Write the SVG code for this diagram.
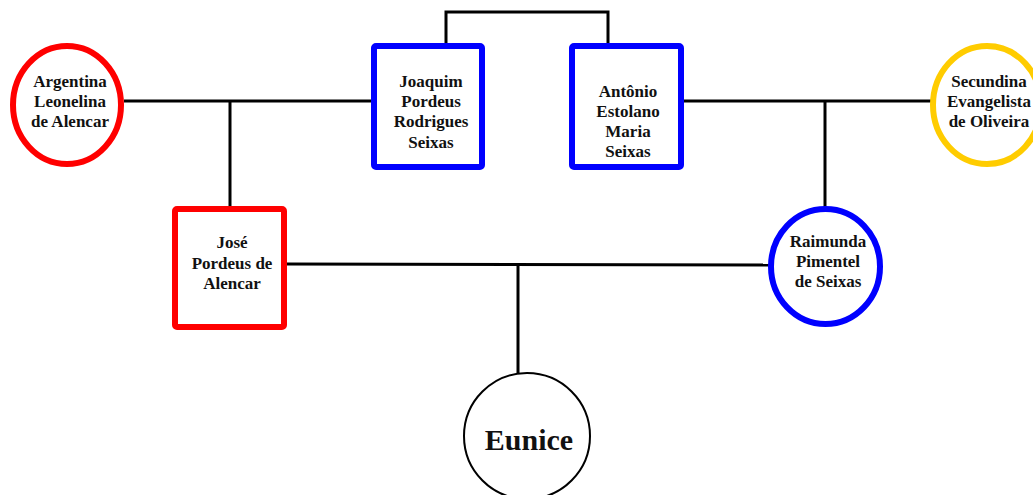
<svg xmlns="http://www.w3.org/2000/svg" width="1033" height="495" viewBox="0 0 1033 495">
  <style>
    .lbl { font-family: "Liberation Serif", "Times New Roman", serif; font-weight: bold; font-size: 17px; fill: #111; text-anchor: middle; }
    .big { font-size: 30px; }
    .edge { stroke: #000; stroke-width: 3; fill: none; }
    .red { stroke: #ff0000; stroke-width: 6; fill: #fff; }
    .blue { stroke: #0000ff; stroke-width: 6; fill: #fff; }
    .gold { stroke: #ffcc00; stroke-width: 6; fill: #fff; }
    .plain { stroke: #000; stroke-width: 2; fill: #fff; }
  </style>
  <rect width="1033" height="495" fill="#fff"/>

  <g id="connectors">
    <path class="edge" d="M124 101 H374"/>
    <path class="edge" d="M230 101 V208"/>
    <path class="edge" d="M446 46 V12 H608 V46"/>
    <path class="edge" d="M684 101 H932"/>
    <path class="edge" d="M825 101 V209"/>
    <path class="edge" d="M287 264 L771 265"/>
    <path class="edge" d="M518 264 V373"/>
  </g>

  <g id="argentina">
    <ellipse class="red" cx="67" cy="105" rx="54" ry="59"/>
    <text class="lbl" x="70" y="87">Argentina</text>
    <text class="lbl" x="70" y="107">Leonelina</text>
    <text class="lbl" x="70" y="127">de Alencar</text>
  </g>

  <g id="joaquim">
    <rect class="blue" x="374" y="46" width="108" height="121" rx="2"/>
    <text class="lbl" x="431" y="87">Joaquim</text>
    <text class="lbl" x="431" y="107">Pordeus</text>
    <text class="lbl" x="431" y="127">Rodrigues</text>
    <text class="lbl" x="431" y="148">Seixas</text>
  </g>

  <g id="antonio">
    <rect class="blue" x="572" y="46" width="109" height="121" rx="2"/>
    <text class="lbl" x="628" y="97">Antônio</text>
    <text class="lbl" x="628" y="117">Estolano</text>
    <text class="lbl" x="628" y="137">Maria</text>
    <text class="lbl" x="628" y="157">Seixas</text>
  </g>

  <g id="secundina">
    <ellipse class="gold" cx="987" cy="105" rx="54" ry="59"/>
    <text class="lbl" x="989" y="87">Secundina</text>
    <text class="lbl" x="989" y="107">Evangelista</text>
    <text class="lbl" x="989" y="127">de Oliveira</text>
  </g>

  <g id="jose">
    <rect class="red" x="175" y="209" width="109" height="118" rx="2"/>
    <text class="lbl" x="232" y="248">José</text>
    <text class="lbl" x="232" y="269">Pordeus de</text>
    <text class="lbl" x="232" y="289">Alencar</text>
  </g>

  <g id="raimunda">
    <ellipse class="blue" cx="825.5" cy="266.5" rx="54.5" ry="57.5"/>
    <text class="lbl" x="828" y="247">Raimunda</text>
    <text class="lbl" x="828" y="267">Pimentel</text>
    <text class="lbl" x="828" y="287">de Seixas</text>
  </g>

  <g id="eunice">
    <circle class="plain" cx="527" cy="436" r="63"/>
    <text class="lbl big" x="529" y="450">Eunice</text>
  </g>
</svg>
